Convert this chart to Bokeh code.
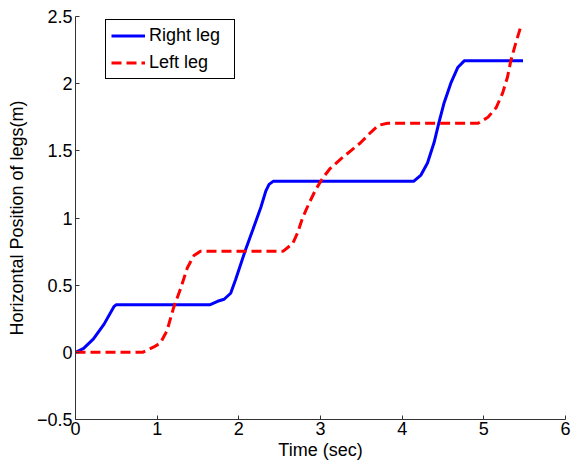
from bokeh.plotting import figure
from bokeh.models import Range1d, Legend, LegendItem, FixedTicker
from bokeh.embed import file_html
from bokeh.resources import INLINE

# Right leg (blue, solid)
right_t = [0, 0.1, 0.22, 0.35, 0.47, 0.5, 1.65, 1.74, 1.82, 1.9, 1.96, 2.08, 2.17, 2.27, 2.33, 2.37, 2.42,
           4.14, 4.23, 4.31, 4.39, 4.45, 4.51, 4.60, 4.68, 4.76, 5.48]
right_y = [0, 0.03, 0.1, 0.21, 0.34, 0.355, 0.355, 0.38, 0.395, 0.44, 0.54, 0.76, 0.91, 1.08, 1.2, 1.25, 1.273,
           1.273, 1.32, 1.41, 1.56, 1.71, 1.85, 2.01, 2.12, 2.17, 2.17]

# Left leg (red, dashed)
left_t = [0, 0.82, 0.96, 1.04, 1.12, 1.2, 1.29, 1.37, 1.45, 1.53, 2.54, 2.66, 2.72, 2.78, 2.86, 2.94,
          3.03, 3.12, 3.25, 3.37, 3.49, 3.62, 3.71, 3.82, 4.93, 5.05, 5.15, 5.23, 5.29, 5.33, 5.39, 5.45]
left_y = [0, 0, 0.04, 0.07, 0.16, 0.33, 0.48, 0.63, 0.72, 0.752, 0.752, 0.81, 0.89, 1.0, 1.11, 1.21,
          1.30, 1.37, 1.44, 1.50, 1.56, 1.64, 1.69, 1.705, 1.705, 1.75, 1.82, 1.93, 2.05, 2.17, 2.30, 2.42]

x_ticks = [0, 1, 2, 3, 4, 5, 6]
y_ticks = [-0.5, 0, 0.5, 1, 1.5, 2, 2.5]

FONT = "Liberation Sans"
FS = "18px"

p = figure(width=575, height=466, output_backend="svg", toolbar_location=None,
           x_range=Range1d(0, 6), y_range=Range1d(-0.5, 2.5),
           min_border_left=75, min_border_right=10, min_border_top=16, min_border_bottom=47)
p.outline_line_color = None
p.xgrid.visible = False
p.ygrid.visible = False

r1 = p.line(right_t, right_y, line_color="#0000ff", line_width=3)
r2 = p.line(left_t, left_y, line_color="#ff0000", line_width=3, line_dash="10 5")

for ax in (p.xaxis[0], p.yaxis[0]):
    ax.axis_line_color = "#333333"
    ax.axis_line_width = 1
    ax.major_tick_in = 4
    ax.major_tick_out = 0
    ax.major_tick_line_color = "#333333"
    ax.minor_tick_line_color = None
    ax.major_label_text_font = FONT
    ax.major_label_text_font_size = FS
    ax.major_label_text_color = "black"
    ax.axis_label_text_font = FONT
    ax.axis_label_text_font_size = FS
    ax.axis_label_text_font_style = "normal"
    ax.axis_label_text_color = "black"

p.xaxis[0].ticker = FixedTicker(ticks=x_ticks)
p.yaxis[0].ticker = FixedTicker(ticks=y_ticks)
p.xaxis[0].axis_label = "Time (sec)"
p.yaxis[0].axis_label = "Horizontal Position of legs(m)"
p.xaxis[0].major_label_standoff = 2
p.xaxis[0].axis_label_standoff = 2
p.yaxis[0].major_label_standoff = 3
p.yaxis[0].axis_label_standoff = 7

legend = Legend(items=[LegendItem(label="Right leg", renderers=[r1]),
                       LegendItem(label="Left leg", renderers=[r2])],
                location=(30, 340))
legend.border_line_color = "black"
legend.border_line_alpha = 1
legend.border_line_width = 1.5
legend.background_fill_color = "white"
legend.background_fill_alpha = 1
legend.label_text_font = FONT
legend.label_text_font_size = FS
legend.label_text_color = "black"
legend.glyph_width = 34
legend.glyph_height = 19
legend.label_height = 19
legend.label_width = 80
legend.spacing = 6
legend.padding = 5
legend.margin = 0
legend.label_standoff = 4
p.add_layout(legend, "center")

open("out.html", "w").write(file_html(p, INLINE))
